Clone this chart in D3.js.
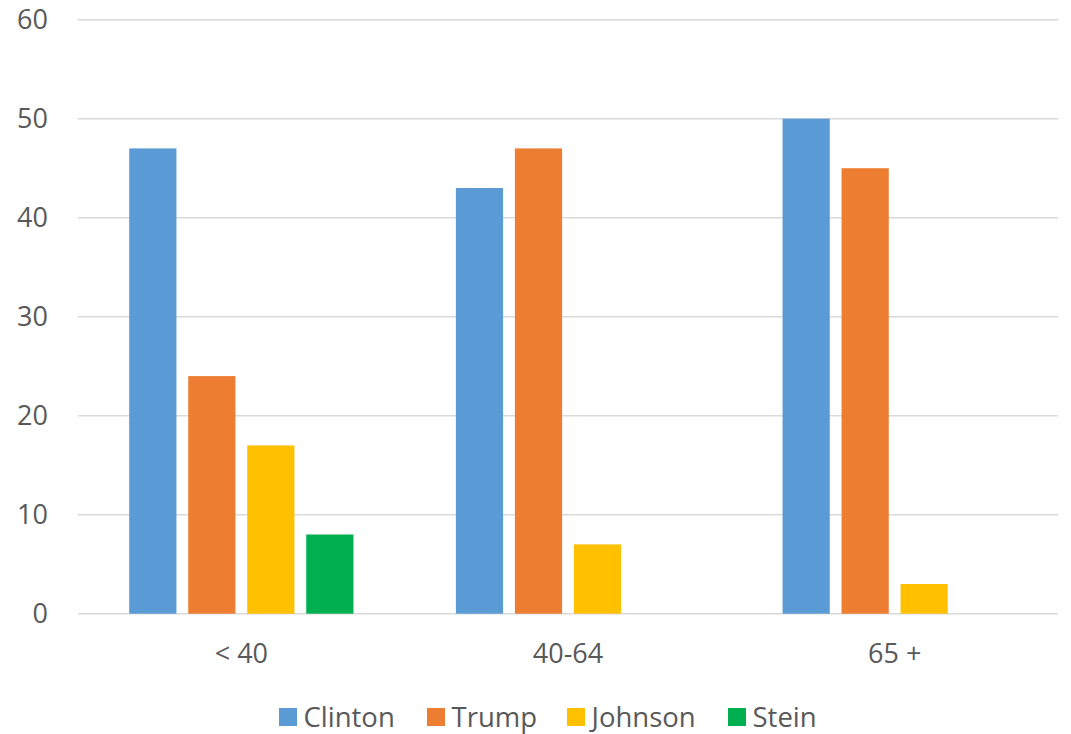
<!DOCTYPE html>
<html>
<head>
<meta charset="utf-8">
<script src="https://cdn.jsdelivr.net/npm/d3@7"></script>
<style>
  html, body { margin: 0; padding: 0; background: #ffffff; }
  svg { display: block; }
  text { font-family: "Open Sans", "Noto Sans", sans-serif; fill: #595959; }
</style>
</head>
<body>
<svg id="chart" width="1071" height="734"></svg>
<script>
const categories = ["< 40", "40-64", "65 +"];
const seriesNames = ["Clinton", "Trump", "Johnson", "Stein"];
const clinton = [47, 43, 50];
const trump = [24, 47, 45];
const johnson = [17, 7, 3];
const stein = [8, 0, 0];
const yTicks = [0, 10, 20, 30, 40, 50, 60];
const colors = ["#5B9BD5", "#ED7D31", "#FFC000", "#00B050"];

const seriesValues = [clinton, trump, johnson, stein];

(function () {
const svg = d3.select("#chart");
const plotLeft = 78, plotRight = 1058, plotTop = 19.7, plotBottom = 613.7;

const x0 = d3.scaleBand().domain(categories).range([plotLeft, plotRight]);
const x1 = d3.scaleBand().domain(seriesNames).range([0, x0.bandwidth()])
  .paddingInner(0.2).paddingOuter(0.868);
const y = d3.scaleLinear().domain([0, 60]).range([plotBottom, plotTop]);
const color = d3.scaleOrdinal().domain(seriesNames).range(colors);

// gridlines
svg.append("g").selectAll("line").data(yTicks).join("line")
  .attr("x1", plotLeft).attr("x2", plotRight)
  .attr("y1", d => y(d)).attr("y2", d => y(d))
  .attr("stroke", "#D9D9D9").attr("stroke-width", 1.5);

// y axis labels
const yAxis = d3.axisLeft(y).tickValues(yTicks).tickSize(0).tickPadding(0);
const yg = svg.append("g").attr("transform", "translate(48,0)").call(yAxis);
yg.select(".domain").remove();
yg.selectAll("text").style("font-size", "27px").attr("fill", "#595959")
  .attr("font-family", "Open Sans, sans-serif");

// bars
const data = [];
categories.forEach((c, i) => {
  seriesNames.forEach((s, j) => {
    data.push({cat: c, series: s, value: seriesValues[j][i]});
  });
});
svg.append("g").selectAll("rect").data(data.filter(d => d.value > 0)).join("rect")
  .attr("x", d => x0(d.cat) + x1(d.series))
  .attr("width", x1.bandwidth())
  .attr("y", d => y(d.value))
  .attr("height", d => y(0) - y(d.value))
  .attr("fill", d => color(d.series));

// x axis labels
const xAxis = d3.axisBottom(x0).tickSize(0).tickPadding(0);
const xg = svg.append("g").attr("transform", "translate(0,663)").call(xAxis);
xg.select(".domain").remove();
xg.selectAll("text").attr("dy", "0").style("font-size", "27px").attr("fill", "#595959")
  .attr("font-family", "Open Sans, sans-serif");

// legend
const legendX = [279, 427, 567, 728];
const lg = svg.append("g");
seriesNames.forEach((s, i) => {
  const g = lg.append("g").attr("transform", `translate(${legendX[i]},0)`);
  g.append("rect").attr("x", 0).attr("y", 708).attr("width", 18).attr("height", 18)
    .attr("fill", color(s));
  g.append("text").attr("x", 24.5).attr("y", 727).style("font-size", "27.5px").text(s);
});
})();
</script>
</body>
</html>
